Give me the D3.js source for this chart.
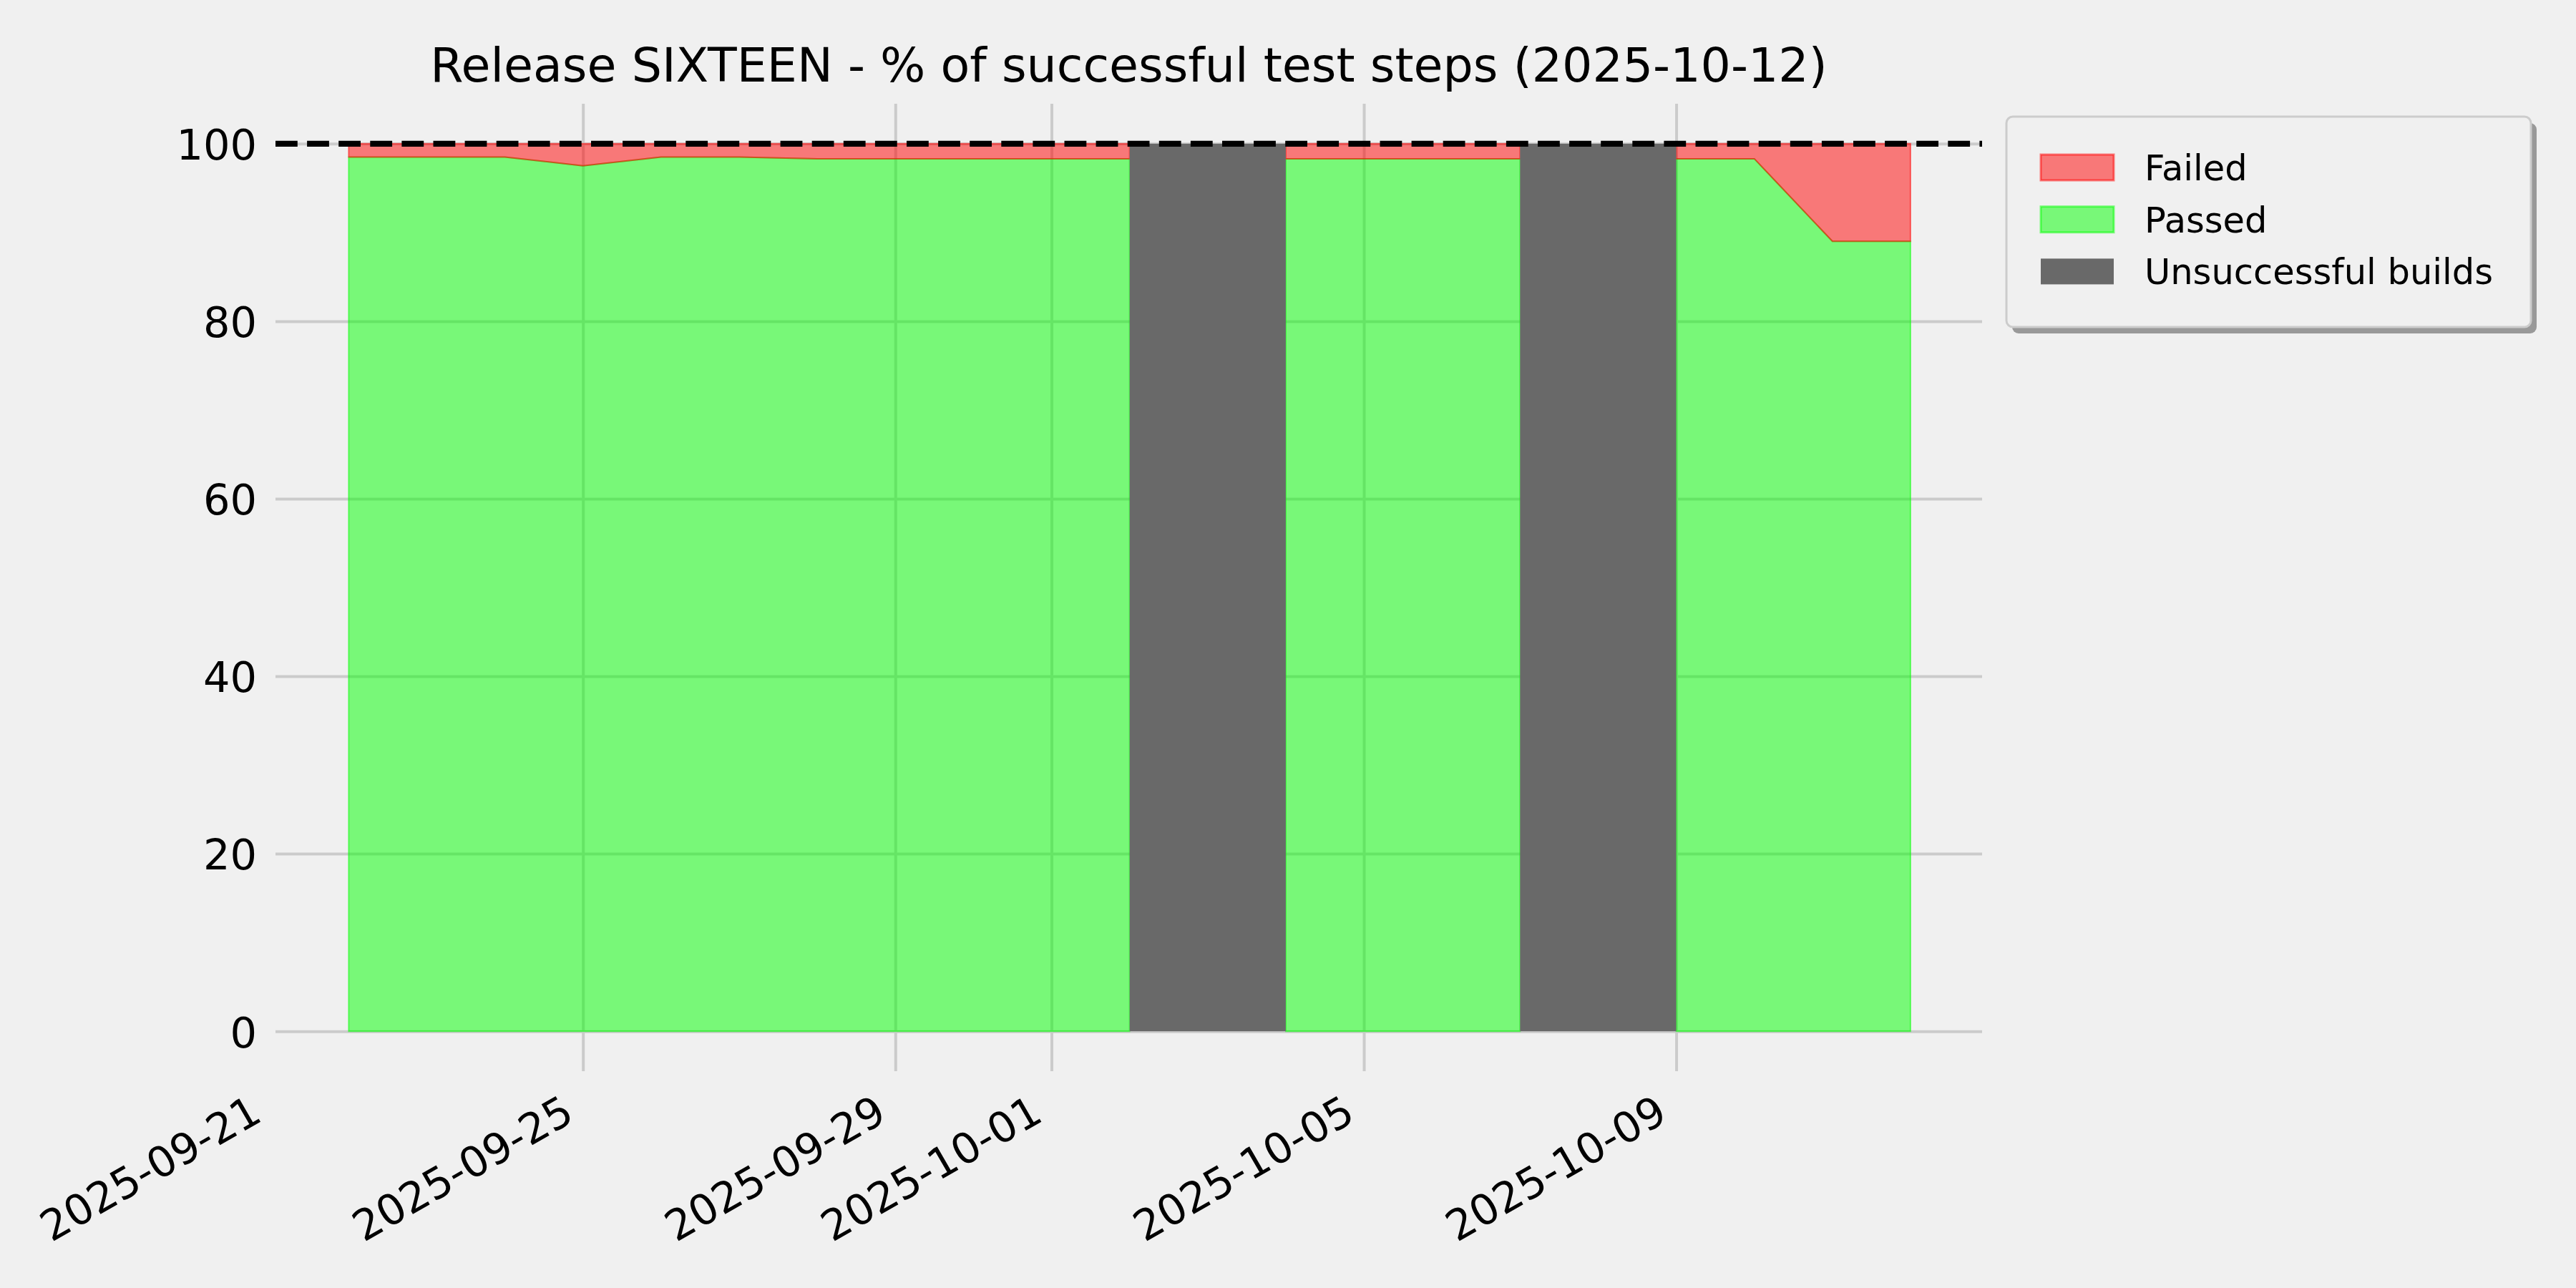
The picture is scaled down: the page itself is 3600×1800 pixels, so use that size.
<!DOCTYPE html>
<html>
 <head>
  <title>Release SIXTEEN</title>
  <script src="https://cdnjs.cloudflare.com/ajax/libs/d3/7.8.5/d3.min.js"></script>
  <style>
   body { margin: 0; background: #f0f0f0; }
   text { font-family: "DejaVu Sans", sans-serif; fill: #000; }
  </style>
 </head>

 <body>
  <script>
   const title = "Release SIXTEEN - % of successful test steps (2025-10-12)";
   const days = ["2025-09-22", "2025-09-23", "2025-09-24", "2025-09-25", "2025-09-26", "2025-09-27", "2025-09-28",
                 "2025-09-29", "2025-09-30", "2025-10-01", "2025-10-02", "2025-10-03", "2025-10-04", "2025-10-05",
                 "2025-10-06", "2025-10-07", "2025-10-08", "2025-10-09", "2025-10-10", "2025-10-11", "2025-10-12"];
   const passed = [98.5, 98.5, 98.5, 97.5, 98.5, 98.5, 98.3, 98.3, 98.3, 98.3, 98.3, null, 98.3, 98.3,
                   98.3, 98.3, null, 98.3, 98.3, 89.0, 89.0];
   const failed = [1.5, 1.5, 1.5, 2.5, 1.5, 1.5, 1.7, 1.7, 1.7, 1.7, 1.7, null, 1.7, 1.7,
                   1.7, 1.7, null, 1.7, 1.7, 11.0, 11.0];
   const brokenStart = ["2025-10-02", "2025-10-07"];
   const brokenEnd = ["2025-10-04", "2025-10-09"];
   const xTicks = ["2025-09-21", "2025-09-25", "2025-09-29", "2025-10-01", "2025-10-05", "2025-10-09"];
   const yTicks = [0, 20, 40, 60, 80, 100];
   const target = 100;
   const legendLabels = ["Failed", "Passed", "Unsuccessful builds"];

   const w = 3600;
   const h = 1800;
   const padL = 385, padR = 2770, padT = 145, padB = 1497;
   const parse = d3.utcParse("%Y-%m-%d");

   const data = days.map((d, i) => ({date: parse(d), passed: passed[i], failed: failed[i]}));

   const xScale = d3.scaleUtc()
                    .domain([new Date(Date.UTC(2025, 8, 21, 1, 30)), new Date(Date.UTC(2025, 9, 12, 22, 0))])
                    .range([padL, padR]);
   const yScale = d3.scaleLinear()
                    .domain([-4.5, 104.5])
                    .range([padB, padT]);

   const svg = d3.select("body")
                 .append("svg")
                 .attr("width", w)
                 .attr("height", h)
                 .style("display", "block")
                 .style("background", "#f0f0f0");

   // grid + ticks
   const xAxis = d3.axisBottom(xScale)
                   .tickValues(xTicks.map(parse))
                   .tickSize(-(padB - padT))
                   .tickFormat(d3.utcFormat("%Y-%m-%d"));
   const gx = svg.append("g")
                 .attr("id", "x-axis")
                 .attr("transform", "translate(0," + padB + ")")
                 .call(xAxis);
   gx.select(".domain").remove();
   gx.selectAll("line")
     .attr("stroke", "#cbcbcb")
     .attr("stroke-width", 4)
     .attr("display", d => d < xScale.domain()[0] ? "none" : null);
   gx.selectAll("text")
     .attr("font-size", 59)
     .attr("text-anchor", "end")
     .attr("y", null)
     .attr("dy", null)
     .attr("transform", "translate(-10,68) rotate(-30)");

   const yAxis = d3.axisLeft(yScale)
                   .tickValues(yTicks)
                   .tickSize(-(padR - padL))
                   .tickPadding(26);
   const gy = svg.append("g")
                 .attr("id", "y-axis")
                 .attr("transform", "translate(" + padL + ",0)")
                 .call(yAxis);
   gy.select(".domain").remove();
   gy.selectAll("line")
     .attr("stroke", "#cbcbcb")
     .attr("stroke-width", 4);
   gy.selectAll("text")
     .attr("font-size", 59)
     .attr("dy", "0.37em");

   // stacked areas
   const passedArea = d3.area()
                        .defined(d => d.passed != null)
                        .x(d => xScale(d.date))
                        .y0(yScale(0))
                        .y1(d => yScale(d.passed));
   const failedArea = d3.area()
                        .defined(d => d.passed != null)
                        .x(d => xScale(d.date))
                        .y0(d => yScale(d.passed))
                        .y1(d => yScale(d.passed + d.failed));
   svg.append("path")
      .datum(data)
      .attr("d", passedArea)
      .attr("fill", "rgba(0,255,0,0.5)")
      .attr("stroke", "rgba(0,255,0,0.5)")
      .attr("stroke-width", 2);
   svg.append("path")
      .datum(data)
      .attr("d", failedArea)
      .attr("fill", "rgba(255,0,0,0.5)")
      .attr("stroke", "rgba(255,0,0,0.5)")
      .attr("stroke-width", 2);

   svg.selectAll("rect.broken")
      .data(brokenStart)
      .enter()
      .append("rect")
      .attr("class", "broken")
      .attr("x", d => xScale(parse(d)))
      .attr("y", yScale(100))
      .attr("width", (d, i) => xScale(parse(brokenEnd[i])) - xScale(parse(d)))
      .attr("height", yScale(0) - yScale(100))
      .attr("fill", "#696969");

   svg.append("line")
      .attr("x1", padL)
      .attr("x2", padR)
      .attr("y1", yScale(target))
      .attr("y2", yScale(target))
      .attr("stroke", "#000")
      .attr("stroke-width", 8.3)
      .attr("stroke-dasharray", "30.8,13.3");

   svg.append("text")
      .attr("x", (padL + padR) / 2)
      .attr("y", 114)
      .attr("text-anchor", "middle")
      .attr("font-size", 66.6)
      .text(title);

   // legend
   const leg = svg.append("g")
                  .attr("id", "legend")
                  .attr("transform", "translate(2804,163)");
   leg.append("rect")
      .attr("x", 8).attr("y", 9)
      .attr("width", 733).attr("height", 294)
      .attr("rx", 9)
      .attr("fill", "#999999");
   leg.append("rect")
      .attr("width", 733).attr("height", 294)
      .attr("rx", 9)
      .attr("fill", "#f0f0f0")
      .attr("stroke", "#cccccc")
      .attr("stroke-width", 3);
   const fills = ["rgba(255,0,0,0.5)", "rgba(0,255,0,0.5)", "#696969"];
   const entries = leg.selectAll("g.entry")
                      .data(legendLabels)
                      .enter()
                      .append("g")
                      .attr("class", "entry")
                      .attr("transform", (d, i) => "translate(0," + (53 + i * 72.7) + ")");
   entries.append("rect")
          .attr("x", 48)
          .attr("width", 102)
          .attr("height", 36)
          .attr("fill", (d, i) => fills[i])
          .attr("stroke", (d, i) => i < 2 ? fills[i] : "none")
          .attr("stroke-width", 3);
   entries.append("text")
          .attr("x", 193)
          .attr("y", 36)
          .attr("font-size", 49.5)
          .text(d => d);
  </script>
 </body>
</html>
